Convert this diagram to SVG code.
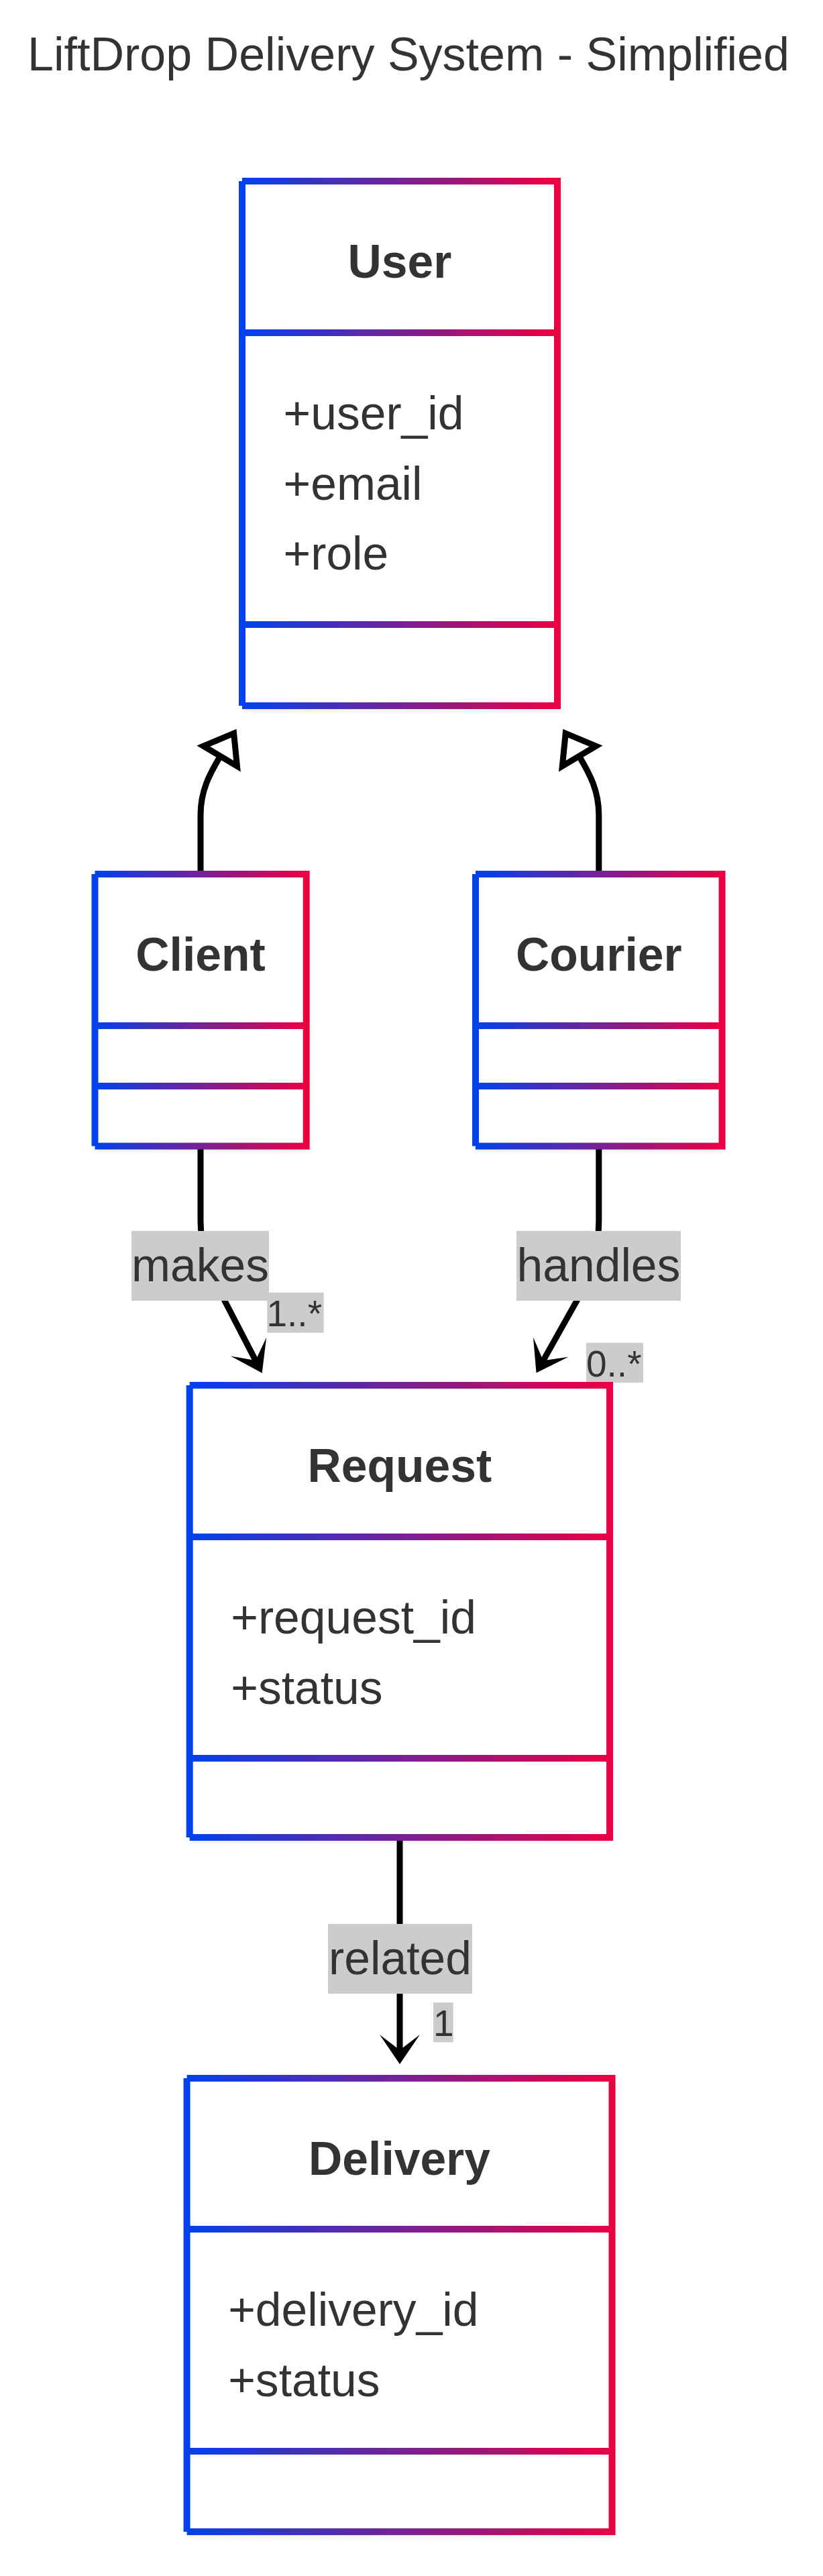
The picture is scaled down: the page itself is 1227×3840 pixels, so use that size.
<svg xmlns="http://www.w3.org/2000/svg" width="1227" height="3840" viewBox="0 0 1227 3840">
<style>
text{font-family:"Liberation Sans",Arial,Helvetica,sans-serif;fill:#333333}
.title{font-size:70px;text-anchor:middle}
.hdr{font-size:69.6px;font-weight:bold;text-anchor:middle}
.attr{font-size:69.6px}
.lbl{font-size:69.6px;text-anchor:middle}
.card{font-size:55px}
.box{fill:none;stroke:url(#grad);stroke-width:10;stroke-linejoin:miter;stroke-linecap:butt}
.bg{fill:#ffffff;filter:url(#shadow)}
.edge{fill:none;stroke:#000000;stroke-width:9}
.lblbg{fill:#cccccc}
</style>
<defs>
<linearGradient id="grad" x1="0" y1="0" x2="1" y2="0">
<stop offset="0" stop-color="#0042eb"/>
<stop offset="1" stop-color="#eb0042"/>
</linearGradient>
<filter id="shadow" x="-20%" y="-20%" width="140%" height="140%">
<feDropShadow dx="2" dy="4" stdDeviation="5" flood-color="#000000" flood-opacity="0.18"/>
</filter>
<marker id="extends" markerUnits="userSpaceOnUse" orient="auto" refX="0" refY="0" markerWidth="60" markerHeight="60" overflow="visible">
<path d="M0,-29.15 L39.5,0 L0,29.15 Z" fill="#ffffff" stroke="#000000" stroke-width="9" stroke-linejoin="miter"/>
</marker>
<marker id="assoc" markerUnits="userSpaceOnUse" orient="auto" refX="0" refY="0" markerWidth="60" markerHeight="60" overflow="visible">
<path d="M15,0 L-29,-30 L-6,0 L-29,30 Z" fill="#000000"/>
</marker>
</defs>
<rect x="0" y="0" width="1227" height="3840" fill="#ffffff"/>
<text class="title" x="609" y="105">LiftDrop Delivery System - Simplified</text>

<g id="connectors">
<path class="edge" d="M299,1303 V1215 C299,1178 313,1153 328.4,1127.1" marker-end="url(#extends)"/>
<path class="edge" d="M892.8,1303 V1215 C892.8,1178 878.8,1153 863.4,1127.1" marker-end="url(#extends)"/>
<path class="edge" d="M299,1713 V1820 C299,1870 320,1905 335,1939 L383.8,2033.4" marker-end="url(#assoc)"/>
<path class="edge" d="M892.8,1713 V1820 C892.8,1870 875,1905 860,1939 L806.9,2033.4" marker-end="url(#assoc)"/>
<path class="edge" d="M596,2744 V3062" marker-end="url(#assoc)"/>
</g>

<g id="edge-labels">
<g id="label-makes">
<rect class="lblbg" x="196" y="1835" width="205" height="104"/>
<text class="lbl" x="298.5" y="1910">makes</text>
</g>
<g id="label-makes-card">
<rect class="lblbg" x="398.3" y="1926.7" width="84.4" height="60"/>
<text class="card" x="397.5" y="1977.3">1..*</text>
</g>
<g id="label-handles">
<rect class="lblbg" x="770" y="1835" width="245" height="104"/>
<text class="lbl" x="892.5" y="1910">handles</text>
</g>
<g id="label-handles-card">
<rect class="lblbg" x="874" y="2001.7" width="85" height="59.3"/>
<text class="card" x="874" y="2052">0..*</text>
</g>
<g id="label-related">
<rect class="lblbg" x="489" y="2868" width="215" height="104"/>
<text class="lbl" x="596.5" y="2943">related</text>
</g>
<g id="label-related-card">
<rect class="lblbg" x="646" y="2985" width="29.7" height="59.3"/>
<text class="card" x="646" y="3035">1</text>
</g>
</g>

<g id="User">
<rect class="bg" x="361" y="270" width="470" height="782"/>
<path class="box" d="M361,270 H831 V1052 H361 M361,270 V1052 M361,496 H831 M361,931 H831"/>
<text class="hdr" x="596" y="414">User</text>
<text class="attr" x="422.6" y="640">+user_id</text>
<text class="attr" x="422.6" y="744.5">+email</text>
<text class="attr" x="422.6" y="849">+role</text>
</g>

<g id="Client">
<rect class="bg" x="141.5" y="1303" width="315.2" height="405.5"/>
<path class="box" d="M141.5,1303 H456.7 V1708.5 H141.5 M141.5,1303 V1708.5 M141.5,1529 H456.7 M141.5,1619 H456.7"/>
<text class="hdr" x="299" y="1447">Client</text>
</g>

<g id="Courier">
<rect class="bg" x="709" y="1303" width="367.5" height="405.5"/>
<path class="box" d="M709,1303 H1076.5 V1708.5 H709 M709,1303 V1708.5 M709,1529 H1076.5 M709,1619 H1076.5"/>
<text class="hdr" x="892.8" y="1447">Courier</text>
</g>

<g id="Request">
<rect class="bg" x="282.7" y="2065" width="626.3" height="674"/>
<path class="box" d="M282.7,2065 H909 V2739 H282.7 M282.7,2065 V2739 M282.7,2291 H909 M282.7,2621 H909"/>
<text class="hdr" x="595.9" y="2209">Request</text>
<text class="attr" x="344.3" y="2435">+request_id</text>
<text class="attr" x="344.3" y="2539.5">+status</text>
</g>

<g id="Delivery">
<rect class="bg" x="278.6" y="3098" width="633.9" height="676"/>
<path class="box" d="M278.6,3098 H912.5 V3774 H278.6 M278.6,3098 V3774 M278.6,3323 H912.5 M278.6,3654 H912.5"/>
<text class="hdr" x="595.5" y="3242">Delivery</text>
<text class="attr" x="340.2" y="3467">+delivery_id</text>
<text class="attr" x="340.2" y="3571.5">+status</text>
</g>
</svg>
